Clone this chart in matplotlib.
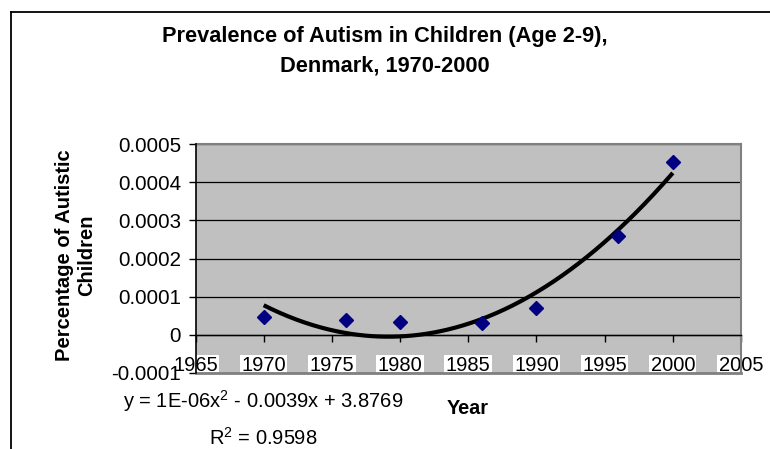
import numpy as np
import matplotlib
matplotlib.use("Agg")
import matplotlib.pyplot as plt
from matplotlib.lines import Line2D

plt.rcParams['font.family'] = ['Liberation Sans', 'DejaVu Sans']
plt.rcParams['mathtext.fontset'] = 'custom'
plt.rcParams['mathtext.rm'] = 'Liberation Sans'
plt.rcParams['mathtext.it'] = 'Liberation Sans:italic'
plt.rcParams['mathtext.bf'] = 'Liberation Sans:bold'

# ---- data ----
years = [1970, 1976, 1980, 1986, 1990, 1996, 2000]
prevalence = [0.0000462, 0.0000394, 0.0000330, 0.0000305, 0.0000709, 0.000258, 0.000453]

x_ticks = [1965, 1970, 1975, 1980, 1985, 1990, 1995, 2000, 2005]
x_tick_labels = ['1965', '1970', '1975', '1980', '1985', '1990', '1995', '2000', '2005']
y_ticks = [-0.0001, 0.0, 0.0001, 0.0002, 0.0003, 0.0004, 0.0005]
y_tick_labels = ['-0.0001', '0', '0.0001', '0.0002', '0.0003', '0.0004', '0.0005']

title_line1 = 'Prevalence of Autism in Children (Age 2-9),'
title_line2 = 'Denmark, 1970-2000'
y_label = 'Percentage of Autistic\nChildren'
x_label = 'Year'
equation_text = 'y = 1E-06x$^2$ - 0.0039x + 3.8769'
r2_text = 'R$^2$ = 0.9598'

W, H = 770, 449
fig = plt.figure(figsize=(W / 100, H / 100), dpi=100)
fig.patch.set_facecolor('white')

L, R, T, B = 195.5, 741, 144, 373
ax = fig.add_axes([L / W, 1 - B / H, (R - L) / W, (B - T) / H])
ax.set_facecolor('#C0C0C0')
ax.set_xlim(1965, 2005)
ax.set_ylim(-0.0001, 0.0005)

# gridlines
ax.set_axisbelow(True)
ax.yaxis.grid(True, color='black', linewidth=0.9)
ax.xaxis.grid(False)

# spines
ax.spines['bottom'].set_position(('data', 0))
ax.spines['bottom'].set_color('black')
ax.spines['bottom'].set_linewidth(1.0)
ax.spines['left'].set_color('black')
ax.spines['left'].set_linewidth(1.2)
ax.spines['left'].set_zorder(3)
for s in ('top', 'right'):
    ax.spines[s].set_color('#808080')
    ax.spines[s].set_linewidth(1.5)
ax.plot([0, 1], [0, 0], transform=ax.transAxes, color='#808080', lw=2.0,
        clip_on=False, zorder=2.6)

ax.set_xticks(x_ticks)
ax.set_xticklabels(x_tick_labels, fontsize=14.5)
ax.set_yticks(y_ticks)
ax.set_yticklabels(y_tick_labels, fontsize=14.8)
ax.tick_params(axis='x', direction='out', length=5, width=1, pad=10.3, colors='black')
ax.tick_params(axis='y', direction='out', length=5, width=1, pad=5.5, colors='black')
for lab in ax.get_xticklabels():
    lab.set_bbox(dict(facecolor='white', edgecolor='none', pad=1.0))

# data
ax.plot(years, prevalence, linestyle='none', marker='D', markersize=6.8,
        color='#000080', zorder=3)
coeffs = np.polyfit(years, prevalence, 2)
xs = np.linspace(min(years), max(years), 300)
ax.plot(xs, np.polyval(coeffs, xs), color='black', linewidth=3, zorder=2.8,
        solid_capstyle='butt')

# texts
fig.text(385 / W, 1 - 41.7 / H, title_line1, ha='center', va='baseline',
         fontsize=15.7, fontweight='bold')
fig.text(385 / W, 1 - 71.7 / H, title_line2, ha='center', va='baseline',
         fontsize=15.7, fontweight='bold')
fig.text(76 / W, 1 - 255 / H, y_label, rotation=90, ha='center', va='center',
         multialignment='center', fontsize=14.5, fontweight='bold')
fig.text(467.5 / W, 1 - 409 / H, x_label, ha='center', va='center',
         fontsize=14.3, fontweight='bold')
fig.text(263 / W, 1 - 401 / H, equation_text, ha='center', va='center', fontsize=14.5)
fig.text(263 / W, 1 - 438 / H, r2_text, ha='center', va='center', fontsize=14.5)

# outer chart frame
fig.add_artist(Line2D([11 / W, 11 / W], [0, 1 - 12 / H], transform=fig.transFigure,
                      color='black', lw=1.3))
fig.add_artist(Line2D([11 / W, 1], [1 - 12 / H, 1 - 12 / H], transform=fig.transFigure,
                      color='black', lw=1.3))

fig.savefig('out.png', dpi=100)
